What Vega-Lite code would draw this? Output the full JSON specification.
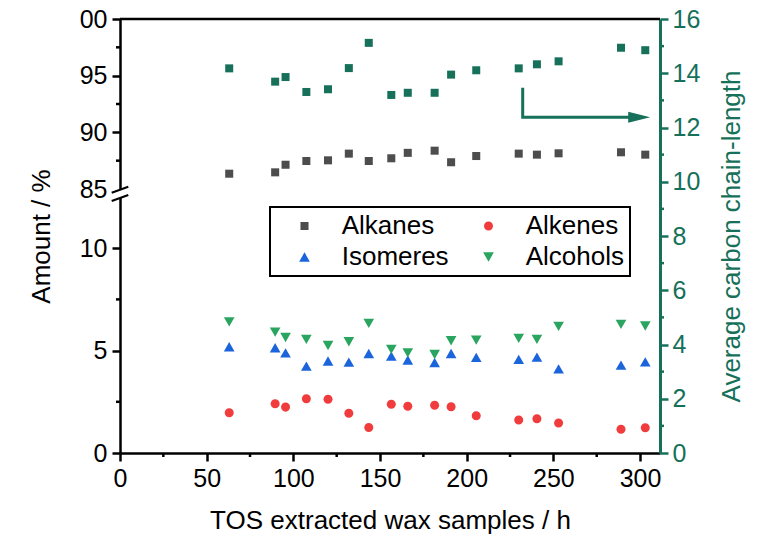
{
  "$schema": "https://vega.github.io/schema/vega-lite/v6.json",
  "width": 540,
  "height": 434,
  "autosize": {"type": "none"},
  "padding": {"left": 120, "top": 19, "right": 109, "bottom": 85},
  "background": "white",
  "config": {
    "view": {"stroke": null},
    "font": "Liberation Sans",
    "legend": {"strokeWidth": 2},
    "axis": {
      "grid": false,
      "labelFont": "Liberation Sans",
      "titleFont": "Liberation Sans",
      "labelFontSize": 25,
      "titleFontSize": 26,
      "titleFontWeight": "normal",
      "labelColor": "black",
      "titleColor": "black",
      "domainColor": "black",
      "tickColor": "black",
      "domainWidth": 2.5,
      "tickWidth": 2.5,
      "tickSize": 8,
      "labelFlush": false,
      "labelOverlap": false
    }
  },
  "datasets": {
    "composition": [
      {"time": 63, "series": "Alkanes", "amount": 86.35},
      {"time": 89.5, "series": "Alkanes", "amount": 86.47},
      {"time": 95.5, "series": "Alkanes", "amount": 87.14},
      {"time": 107.5, "series": "Alkanes", "amount": 87.47},
      {"time": 120, "series": "Alkanes", "amount": 87.53},
      {"time": 132, "series": "Alkanes", "amount": 88.12},
      {"time": 143.5, "series": "Alkanes", "amount": 87.47},
      {"time": 156.5, "series": "Alkanes", "amount": 87.71},
      {"time": 166, "series": "Alkanes", "amount": 88.19},
      {"time": 181.5, "series": "Alkanes", "amount": 88.38},
      {"time": 191, "series": "Alkanes", "amount": 87.36},
      {"time": 205.5, "series": "Alkanes", "amount": 87.91},
      {"time": 230, "series": "Alkanes", "amount": 88.12},
      {"time": 240.5, "series": "Alkanes", "amount": 88.03},
      {"time": 253, "series": "Alkanes", "amount": 88.15},
      {"time": 289, "series": "Alkanes", "amount": 88.24},
      {"time": 303, "series": "Alkanes", "amount": 88.03},
      {"time": 63, "series": "Alkenes", "amount": 1.97},
      {"time": 89.5, "series": "Alkenes", "amount": 2.40},
      {"time": 95.5, "series": "Alkenes", "amount": 2.24},
      {"time": 107.5, "series": "Alkenes", "amount": 2.65},
      {"time": 120, "series": "Alkenes", "amount": 2.62},
      {"time": 132, "series": "Alkenes", "amount": 1.94},
      {"time": 143.5, "series": "Alkenes", "amount": 1.25},
      {"time": 156.5, "series": "Alkenes", "amount": 2.38},
      {"time": 166, "series": "Alkenes", "amount": 2.28},
      {"time": 181.5, "series": "Alkenes", "amount": 2.33},
      {"time": 191, "series": "Alkenes", "amount": 2.26},
      {"time": 205.5, "series": "Alkenes", "amount": 1.82},
      {"time": 230, "series": "Alkenes", "amount": 1.61},
      {"time": 240.5, "series": "Alkenes", "amount": 1.67},
      {"time": 253, "series": "Alkenes", "amount": 1.46},
      {"time": 289, "series": "Alkenes", "amount": 1.16},
      {"time": 303, "series": "Alkenes", "amount": 1.23},
      {"time": 63, "series": "Isomeres", "amount": 5.19},
      {"time": 89.5, "series": "Isomeres", "amount": 5.14},
      {"time": 95.5, "series": "Isomeres", "amount": 4.89},
      {"time": 107.5, "series": "Isomeres", "amount": 4.24},
      {"time": 120, "series": "Isomeres", "amount": 4.49},
      {"time": 132, "series": "Isomeres", "amount": 4.44},
      {"time": 143.5, "series": "Isomeres", "amount": 4.86},
      {"time": 156.5, "series": "Isomeres", "amount": 4.73},
      {"time": 166, "series": "Isomeres", "amount": 4.54},
      {"time": 181.5, "series": "Isomeres", "amount": 4.42},
      {"time": 191, "series": "Isomeres", "amount": 4.86},
      {"time": 205.5, "series": "Isomeres", "amount": 4.67},
      {"time": 230, "series": "Isomeres", "amount": 4.57},
      {"time": 240.5, "series": "Isomeres", "amount": 4.68},
      {"time": 253, "series": "Isomeres", "amount": 4.11},
      {"time": 289, "series": "Isomeres", "amount": 4.29},
      {"time": 303, "series": "Isomeres", "amount": 4.45},
      {"time": 63, "series": "Alcohols", "amount": 6.40},
      {"time": 89.5, "series": "Alcohols", "amount": 5.90},
      {"time": 95.5, "series": "Alcohols", "amount": 5.64},
      {"time": 107.5, "series": "Alcohols", "amount": 5.55},
      {"time": 120, "series": "Alcohols", "amount": 5.25},
      {"time": 132, "series": "Alcohols", "amount": 5.43},
      {"time": 143.5, "series": "Alcohols", "amount": 6.33},
      {"time": 156.5, "series": "Alcohols", "amount": 5.06},
      {"time": 166, "series": "Alcohols", "amount": 4.89},
      {"time": 181.5, "series": "Alcohols", "amount": 4.81},
      {"time": 191, "series": "Alcohols", "amount": 5.48},
      {"time": 205.5, "series": "Alcohols", "amount": 5.51},
      {"time": 230, "series": "Alcohols", "amount": 5.60},
      {"time": 240.5, "series": "Alcohols", "amount": 5.55},
      {"time": 253, "series": "Alcohols", "amount": 6.18},
      {"time": 289, "series": "Alcohols", "amount": 6.28},
      {"time": 303, "series": "Alcohols", "amount": 6.20}
    ],
    "chain": [
      {"time": 63, "length": 14.18},
      {"time": 89.5, "length": 13.69},
      {"time": 95.5, "length": 13.86},
      {"time": 107.5, "length": 13.31},
      {"time": 120, "length": 13.41},
      {"time": 132, "length": 14.19},
      {"time": 143.5, "length": 15.12},
      {"time": 156.5, "length": 13.20},
      {"time": 166, "length": 13.28},
      {"time": 181.5, "length": 13.28},
      {"time": 191, "length": 13.95},
      {"time": 205.5, "length": 14.11},
      {"time": 230, "length": 14.18},
      {"time": 240.5, "length": 14.33},
      {"time": 253, "length": 14.44},
      {"time": 289, "length": 14.94},
      {"time": 303, "length": 14.85}
    ],
    "arrowPath": [
      {"time": 232.3, "length": 13.47, "step": 1},
      {"time": 232.3, "length": 12.38, "step": 2},
      {"time": 299.5, "length": 12.38, "step": 3}
    ],
    "arrowHead": [
      {"time": 299.5, "length": 12.38}
    ],
    "minorLeft": [{"v": 2.5}, {"v": 7.5}, {"v": 87.5}, {"v": 92.5}, {"v": 97.5}],
    "minorBottom": [{"v": 25}, {"v": 75}, {"v": 125}, {"v": 175}, {"v": 225}, {"v": 275}],
    "minorRight": [{"v": 1}, {"v": 3}, {"v": 5}, {"v": 7}, {"v": 9}, {"v": 11}, {"v": 13}, {"v": 15}]
  },
  "layer": [
    {
      "layer": [
        {
          "data": {"name": "composition"},
          "mark": {"type": "point", "filled": true, "opacity": 1, "size": 121, "strokeWidth": 0},
          "encoding": {
            "x": {
              "field": "time",
              "type": "quantitative",
              "scale": {"domain": [0, 311.5], "nice": false, "zero": false},
              "axis": {
                "values": [0, 50, 100, 150, 200, 250, 300],
                "title": "TOS extracted wax samples / h",
                "labelPadding": 5,
                "titleX": 270,
                "titleY": 75,
                "titleAlign": "center",
                "titleBaseline": "alphabetic"
              }
            },
            "y": {
              "field": "amount",
              "type": "quantitative",
              "scale": {"domain": [0, 12.5, 85, 100], "range": [434, 178, 170, 0], "nice": false, "zero": false},
              "axis": {
                "orient": "left",
                "values": [0, 5, 10, 85, 90, 95, 100],
                "labelExpr": "datum.value == 100 ? '00' : datum.label",
                "tickOpacity": {"condition": {"test": "datum.value == 85", "value": 0}, "value": 1},
                "labelPadding": 5,
                "title": "Amount / %",
                "titleAngle": -90,
                "titleX": -71,
                "titleY": 217,
                "titleAlign": "center",
                "titleBaseline": "alphabetic"
              }
            },
            "color": {
              "field": "series",
              "type": "nominal",
              "scale": {
                "domain": ["Alkanes", "Isomeres", "Alkenes", "Alcohols"],
                "range": ["#4d4d4d", "#1a64dc", "#f03c3c", "#2aa55f"]
              },
              "legend": {
                "title": null,
                "orient": "none",
                "legendX": 150,
                "legendY": 188,
                "columns": 2,
                "padding": 6,
                "rowPadding": 5,
                "columnPadding": 11,
                "symbolOffset": 15.5,
                "labelOffset": 24.2,
                "symbolSize": 121,
                "symbolStrokeWidth": 0,
                "symbolOpacity": 1,
                "labelFont": "Liberation Sans",
                "labelFontSize": 26,
                "labelColor": "black",
                "strokeColor": "black",
                "fillColor": "white"
              }
            },
            "shape": {
              "field": "series",
              "type": "nominal",
              "scale": {
                "domain": ["Alkanes", "Isomeres", "Alkenes", "Alcohols"],
                "range": [
                  "M-0.73,-0.73L0.73,-0.73L0.73,0.73L-0.73,0.73Z",
                  "M0,-0.85L0.97,0.85L-0.97,0.85Z",
                  "M-0.82,0A0.82,0.82,0,1,0,0.82,0A0.82,0.82,0,1,0,-0.82,0Z",
                  "M0,0.85L0.97,-0.85L-0.97,-0.85Z"
                ]
              }
            }
          }
        },
        {
          "data": {"values": [{}]},
          "mark": {"type": "rule", "color": "black", "strokeWidth": 2.5},
          "encoding": {
            "x": {"datum": 0, "type": "quantitative"},
            "x2": {"datum": 311.5},
            "y": {"datum": 100, "type": "quantitative"}
          }
        },
        {
          "data": {"name": "minorLeft"},
          "mark": {"type": "point", "shape": "M-1,0L0,0", "size": 64, "filled": false, "stroke": "black", "strokeWidth": 2.5, "opacity": 1},
          "encoding": {
            "x": {"datum": 0, "type": "quantitative"},
            "y": {"field": "v", "type": "quantitative"}
          }
        },
        {
          "data": {"name": "minorBottom"},
          "mark": {"type": "point", "shape": "M0,0L0,1", "size": 64, "filled": false, "stroke": "black", "strokeWidth": 2.5, "opacity": 1},
          "encoding": {
            "x": {"field": "v", "type": "quantitative"},
            "y": {"datum": 0, "type": "quantitative"}
          }
        },
        {
          "data": {"values": [{}]},
          "mark": {"type": "point", "shape": "M-1,0.446L1,-0.277L1,0.723L-1,1.446Z", "size": 276, "filled": true, "fill": "white", "strokeWidth": 0, "opacity": 1},
          "encoding": {
            "x": {"datum": 0, "type": "quantitative"},
            "y": {"datum": 85, "type": "quantitative"}
          }
        },
        {
          "data": {"values": [{}]},
          "mark": {"type": "point", "shape": "M-1,0.446L1,-0.277M-1,1.446L1,0.723", "size": 276, "filled": false, "stroke": "black", "strokeWidth": 2, "opacity": 1},
          "encoding": {
            "x": {"datum": 0, "type": "quantitative"},
            "y": {"datum": 85, "type": "quantitative"}
          }
        }
      ]
    },
    {
      "layer": [
        {
          "data": {"name": "chain"},
          "mark": {"type": "point", "shape": "square", "filled": true, "size": 64, "color": "#16705a", "opacity": 1, "strokeWidth": 0},
          "encoding": {
            "x": {"field": "time", "type": "quantitative"},
            "y": {
              "field": "length",
              "type": "quantitative",
              "scale": {"domain": [0, 16], "nice": false, "zero": true},
              "axis": {
                "orient": "right",
                "values": [0, 2, 4, 6, 8, 10, 12, 14, 16],
                "domainColor": "#16705a",
                "tickColor": "#16705a",
                "labelColor": "#16705a",
                "titleColor": "#16705a",
                "domainWidth": 3,
                "labelPadding": 4,
                "title": "Average carbon chain-length",
                "titleAngle": -90,
                "titleX": 79,
                "titleY": 217,
                "titleAlign": "center",
                "titleBaseline": "alphabetic"
              }
            }
          }
        },
        {
          "data": {"name": "arrowPath"},
          "mark": {"type": "line", "color": "#16705a", "strokeWidth": 3, "strokeCap": "butt"},
          "encoding": {
            "x": {"field": "time", "type": "quantitative"},
            "y": {"field": "length", "type": "quantitative"},
            "order": {"field": "step", "type": "quantitative"}
          }
        },
        {
          "data": {"name": "arrowHead"},
          "mark": {"type": "point", "shape": "M-1,-0.5L1,0L-1,0.5Z", "size": 484, "filled": true, "color": "#16705a", "opacity": 1, "strokeWidth": 0},
          "encoding": {
            "x": {"field": "time", "type": "quantitative"},
            "y": {"field": "length", "type": "quantitative"}
          }
        },
        {
          "data": {"name": "minorRight"},
          "mark": {"type": "point", "shape": "M0,0L1,0", "size": 64, "filled": false, "stroke": "#16705a", "strokeWidth": 2.5, "opacity": 1},
          "encoding": {
            "x": {"datum": 311.5, "type": "quantitative"},
            "y": {"field": "v", "type": "quantitative"}
          }
        }
      ]
    }
  ],
  "resolve": {"scale": {"y": "independent"}}
}
